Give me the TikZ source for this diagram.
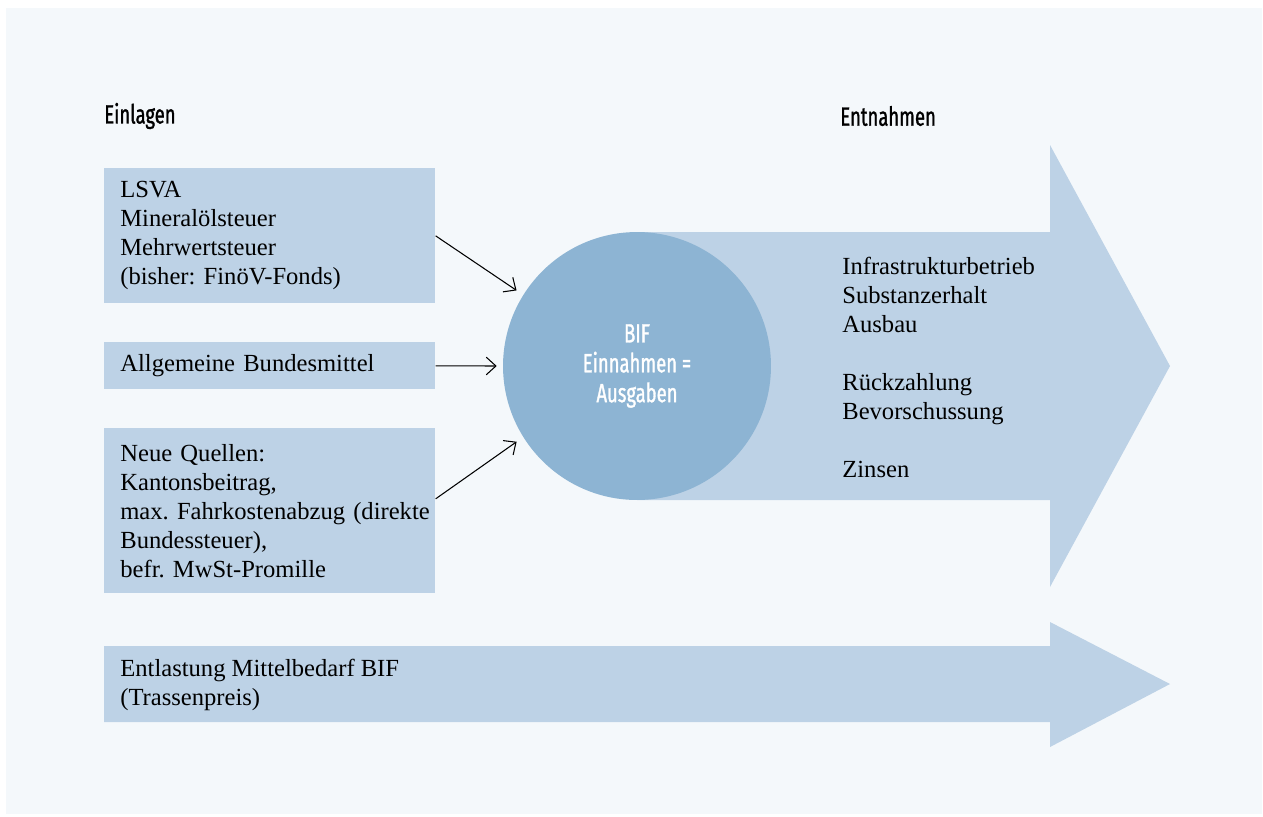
\documentclass[tikz,border=0pt]{standalone}
\usepackage{fontspec}
\setmainfont{Liberation Serif}
\newfontfamily\condfont[FakeStretch=0.7,FakeBold=1.2]{Fira Sans}
\usetikzlibrary{arrows.meta,calc}
\definecolor{panelbg}{RGB}{244,248,251}
\definecolor{boxblue}{RGB}{189,210,230}
\definecolor{circleblue}{RGB}{141,180,211}
\tikzset{
  quelle/.style={fill=boxblue, anchor=north west, inner xsep=0.32cm, inner ysep=0pt,
    text width=5.98cm, align=left, font=\fontsize{14}{16.5}\selectfont},
  titel/.style={anchor=west, inner sep=0pt, font=\condfont\fontsize{15}{17}\selectfont},
  zufluss/.style={-{Straight Barb[length=5.5pt,width=10pt]}, line width=0.6pt}
}
\begin{document}
\frenchspacing
\hyphenpenalty=10000
\begin{tikzpicture}[x=0.02cm, y=-0.02cm]
  \useasboundingbox (0,0) rectangle (1263,816);
  \fill[panelbg] (6,8) rectangle (1262,814);
  % Überschriften
  \node[titel] (einlagen) at (104,116) {Einlagen};
  \node[titel] (entnahmen) at (840,116) {Entnahmen};
  % Pfeile
  \fill[boxblue] (637,232) -- (1050,232) -- (1050,145) -- (1170,366)
    -- (1050,587) -- (1050,500) -- (637,500) -- cycle;
  \fill[boxblue] (104,646) -- (1050,646) -- (1050,622) -- (1170,684)
    -- (1050,747) -- (1050,722) -- (104,722) -- cycle;
  % Einlagen
  \node[quelle, minimum height=2.7cm] (lsva) at (104,168)
    {LSVA\\Mineralölsteuer\\Mehrwertsteuer\\(bisher: FinöV-Fonds)};
  \node[quelle, minimum height=0.94cm] (bund) at (104,342)
    {Allgemeine Bundesmittel};
  \node[quelle, minimum height=3.3cm] (neu) at (104,428)
    {Neue Quellen:\\Kantonsbeitrag,\\\mbox{max. Fahrkostenabzug (direkte}\\Bundessteuer),\\befr. MwSt-Promille};
  % BIF
  \node[circle, fill=circleblue, minimum size=5.36cm, inner sep=0pt, text=white, align=center,
    font=\condfont\fontsize{15}{17}\selectfont] (bif) at (637,366)
    {BIF\\Einnahmen =\\Ausgaben};
  % Entnahmen
  \node[anchor=west, inner sep=0pt, align=left, font=\fontsize{14}{16.5}\selectfont] (verwendung) at (842,367)
    {Infrastrukturbetrieb\\Substanzerhalt\\Ausbau\\[16.5pt]Rückzahlung\\Bevorschussung\\[16.5pt]Zinsen};
  \node[anchor=west, inner sep=0pt, align=left, font=\fontsize{14}{16.5}\selectfont] (entlastung) at (120,685)
    {Entlastung Mittelbedarf BIF\\(Trassenpreis)};
  % Zuflüsse
  \draw[zufluss, shorten >=4.5pt] (lsva.east) -- (bif.148);
  \draw[zufluss, shorten >=3.4pt] (bund.east) -- (bif.west);
  \draw[zufluss, shorten >=4.5pt] ($(neu.east)+(0,-12)$) -- (bif.212);
\end{tikzpicture}
\end{document}
